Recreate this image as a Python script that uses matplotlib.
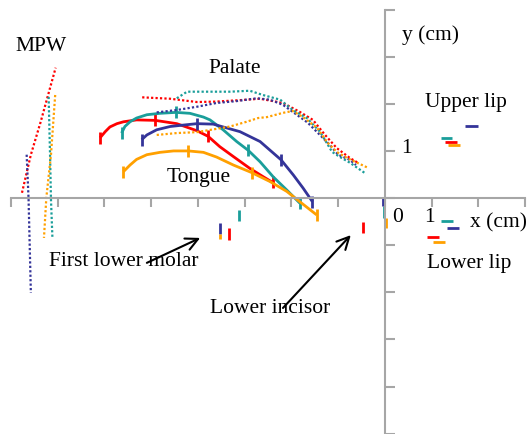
"""
Vocal tract outlines (MPW, palate, tongue, teeth, lips) for four speakers.
"""
import matplotlib

matplotlib.use("Agg")
import matplotlib.pyplot as plt

# series keys, one per colour
series = ["red", "teal", "navy", "orange"]

# posterior pharyngeal wall (MPW), dotted
mpw_x = {
    "red": [-7.76, -7.57, -7.36, -7.16, -7.04],
    "teal": [-7.19, -7.16, -7.14, -7.11],
    "navy": [-7.66, -7.62, -7.57],
    "orange": [-7.05, -7.14, -7.24, -7.29],
}
mpw_y = {
    "red": [0.12, 0.93, 1.63, 2.35, 2.78],
    "teal": [2.16, 0.93, -0.03, -0.82],
    "navy": [0.93, 0.01, -2.01],
    "orange": [2.20, 0.93, 0.01, -0.84],
}

# palate, dotted
palate_x = {
    "red": [-5.19, -4.59, -4.02, -3.60, -3.10, -2.67, -2.18, -1.82, -1.54,
            -1.28, -1.03, -0.75, -0.58],
    "teal": [-4.45, -4.23, -3.68, -3.31, -2.89, -2.61, -2.24, -1.97, -1.67,
             -1.39, -1.13, -0.96, -0.75, -0.43],
    "navy": [-4.88, -4.45, -4.02, -3.60, -3.17, -2.74, -2.46, -2.18, -1.97,
             -1.65, -1.39, -1.18, -1.00, -0.75, -0.62],
    "orange": [-4.88, -4.45, -4.02, -3.60, -3.31, -2.96, -2.71, -2.52, -2.18,
               -1.97, -1.75, -1.45, -1.24, -1.03, -0.81, -0.36],
}
palate_y = {
    "red": [2.15, 2.12, 2.05, 2.06, 2.09, 2.12, 2.03, 1.84, 1.67,
            1.35, 1.07, 0.86, 0.76],
    "teal": [2.13, 2.27, 2.27, 2.27, 2.29, 2.20, 2.10, 1.88, 1.71,
             1.42, 0.99, 0.88, 0.76, 0.54],
    "navy": [1.83, 1.88, 1.95, 2.03, 2.07, 2.13, 2.10, 1.99, 1.84,
             1.61, 1.35, 1.14, 0.93, 0.82, 0.71],
    "orange": [1.35, 1.39, 1.41, 1.48, 1.53, 1.63, 1.71, 1.73, 1.82,
               1.86, 1.73, 1.50, 1.20, 0.99, 0.86, 0.65],
}

# tongue contour, solid, with measured points marked
tongue_x = {
    "red": [-6.09, -5.98, -5.88, -5.73, -5.59, -5.31, -4.91, -4.45, -4.02,
            -3.78, -3.53, -3.24, -2.89, -2.60, -2.40],
    "teal": [-5.63, -5.56, -5.45, -5.31, -5.09, -4.81, -4.47, -4.17, -3.88,
             -3.74, -3.46, -3.17, -2.92, -2.67, -2.39, -2.10, -1.82],
    "navy": [-5.20, -5.09, -4.88, -4.59, -4.31, -4.02, -3.67, -3.53, -3.10,
             -2.67, -2.22, -1.96, -1.75, -1.55],
    "orange": [-5.59, -5.45, -5.31, -5.09, -4.81, -4.52, -4.20, -3.88, -3.60,
               -3.24, -2.85, -2.46, -2.10, -1.82, -1.46],
}
tongue_y = {
    "red": [1.29, 1.42, 1.52, 1.59, 1.63, 1.67, 1.66, 1.59, 1.44,
            1.32, 1.10, 0.89, 0.64, 0.46, 0.34],
    "teal": [1.39, 1.53, 1.63, 1.71, 1.78, 1.81, 1.83, 1.81, 1.73,
             1.67, 1.46, 1.21, 1.02, 0.78, 0.46, 0.18, -0.10],
    "navy": [1.25, 1.35, 1.46, 1.53, 1.56, 1.59, 1.58, 1.54, 1.42,
             1.21, 0.82, 0.50, 0.22, -0.07],
    "orange": [0.57, 0.71, 0.83, 0.93, 0.98, 1.01, 1.01, 0.98, 0.88,
               0.71, 0.55, 0.36, 0.15, -0.07, -0.35],
}
tongue_marks = {
    "red": [0, 6, 9, 14],
    "teal": [0, 6, 12, 16],
    "navy": [0, 5, 10, 13],
    "orange": [0, 6, 10, 14],
}

# teeth: vertical segments (x, y top, y bottom)
molar_x = {"red": -3.33, "teal": -3.12, "navy": -3.53, "orange": -3.53}
molar_y = {
    "red": (-0.63, -0.88),
    "teal": (-0.25, -0.48),
    "navy": (-0.53, -0.76),
    "orange": (-0.76, -0.87),
}
incisor_x = {"red": -0.46, "teal": -0.02, "navy": -0.04, "orange": 0.02}
incisor_y = {
    "red": (-0.50, -0.74),
    "teal": (-0.17, -0.42),
    "navy": (0.04, -0.17),
    "orange": (-0.42, -0.62),
}

# lips: horizontal segments (x left, x right) at y
upper_lip_x = {
    "red": (1.28, 1.53),
    "teal": (1.20, 1.44),
    "navy": (1.72, 1.98),
    "orange": (1.34, 1.60),
}
upper_lip_y = {"red": 1.19, "teal": 1.29, "navy": 1.54, "orange": 1.13}
lower_lip_x = {
    "red": (0.89, 1.15),
    "teal": (1.20, 1.46),
    "navy": (1.32, 1.58),
    "orange": (1.02, 1.28),
}
lower_lip_y = {"red": -0.83, "teal": -0.48, "navy": -0.63, "orange": -0.93}

colors = {"red": "#ff0000", "teal": "#1a9e9a", "navy": "#343499", "orange": "#ffa000"}
axis_gray = "#a6a6a6"

plt.rcParams["font.family"] = ["Liberation Serif", "DejaVu Serif"]
plt.rcParams["font.size"] = 15.5

fig = plt.figure(figsize=(5.29, 4.34), dpi=100)
ax = fig.add_axes([0, 0, 1, 1])
ax.set_xlim(-8.23, 3.08)
ax.set_ylim(-5.01, 4.22)

dotted = (0, (1, 1))
for s in series:
    c = colors[s]
    ax.plot(mpw_x[s], mpw_y[s], color=c, lw=1.6, ls=dotted)
    ax.plot(palate_x[s], palate_y[s], color=c, lw=1.6, ls=dotted)
    ax.plot(tongue_x[s], tongue_y[s], color=c, lw=2.0, solid_capstyle="butt",
            solid_joinstyle="round")
    ax.plot(
        [tongue_x[s][i] for i in tongue_marks[s]],
        [tongue_y[s][i] for i in tongue_marks[s]],
        ls="none", marker="|", ms=9, mew=2.0, color=c,
    )
    ax.plot([molar_x[s]] * 2, molar_y[s], color=c, lw=2.0, solid_capstyle="butt")
    ax.plot([incisor_x[s]] * 2, incisor_y[s], color=c, lw=2.0, solid_capstyle="butt")
    ax.plot(upper_lip_x[s], [upper_lip_y[s]] * 2, color=c, lw=2.0,
            solid_capstyle="butt")
    ax.plot(lower_lip_x[s], [lower_lip_y[s]] * 2, color=c, lw=2.0,
            solid_capstyle="butt")

# axes crossing at the origin
for side in ["top", "right"]:
    ax.spines[side].set_visible(False)
ax.spines["left"].set_position(("data", 0))
ax.spines["bottom"].set_position(("data", 0))
ax.spines["left"].set_bounds(-5, 4)
ax.spines["bottom"].set_bounds(-8, 3)
for side in ["left", "bottom"]:
    ax.spines[side].set_color(axis_gray)
    ax.spines[side].set_linewidth(1.5)
ax.set_xticks(range(-8, 4))
ax.set_yticks(range(-5, 5))
ax.tick_params(axis="x", direction="out", length=6.5, width=1.5,
               color=axis_gray, labelbottom=False)
ax.tick_params(axis="y", direction="in", length=7, width=1.5,
               color=axis_gray, labelleft=False)

ax.text(0.28, -0.40, "0", ha="center", va="center")
ax.text(0.96, -0.40, "1", ha="center", va="center")
ax.text(0.34, 1.06, "1", ha="left", va="center")
ax.text(1.81, -0.52, "x (cm)", ha="left", va="center")
ax.text(0.36, 3.47, "y (cm)", ha="left", va="center")

ax.text(-7.91, 3.24, "MPW", ha="left", va="center")
ax.text(-3.78, 2.77, "Palate", ha="left", va="center")
ax.text(-4.66, 0.45, "Tongue", ha="left", va="center")
ax.text(0.85, 2.04, "Upper lip", ha="left", va="center")
ax.text(0.90, -1.38, "Lower lip", ha="left", va="center")

arrow = dict(arrowstyle="->", color="black", lw=1.5, mutation_scale=22,
             shrinkA=0, shrinkB=0)
ax.annotate("", xy=(-3.95, -0.84), xytext=(-5.09, -1.37), arrowprops=arrow)
ax.annotate("", xy=(-0.73, -0.78), xytext=(-2.18, -2.33), arrowprops=arrow)
ax.text(-7.18, -1.34, "First lower molar", ha="left", va="center")
ax.text(-3.74, -2.34, "Lower incisor", ha="left", va="center")

fig.savefig("out.png", dpi=100)
